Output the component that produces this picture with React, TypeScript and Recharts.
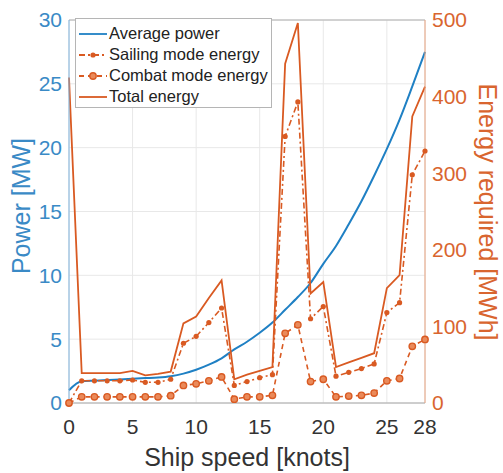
import React from "react";
import {
  ComposedChart,
  Line,
  XAxis,
  YAxis,
  CartesianGrid,
  ReferenceLine,
} from "recharts";

// ship speed [knots]
const speed = [0, 1, 2, 3, 4, 5, 6, 7, 8, 9, 10, 11, 12, 13, 14, 15, 16, 17, 18, 19, 20, 21, 22, 23, 24, 25, 26, 27, 28];
// average power [MW]
const avgPower = [1.0, 1.7, 1.75, 1.8, 1.85, 1.9, 1.95, 2.0, 2.1, 2.3, 2.6, 3.0, 3.5, 4.2, 4.8, 5.5, 6.3, 7.3, 8.3, 9.4, 10.9, 12.3, 14.0, 15.8, 17.8, 19.9, 22.2, 24.8, 27.5];
// energy [MWh]
const sailing = [0, 29, 29, 29, 29, 30, 27, 27, 31, 78, 87, 105, 124, 23, 28, 33, 37, 348, 393, 110, 126, 35, 40, 45, 51, 118, 131, 298, 329];
const combat = [0, 8, 8, 8, 8, 8, 8, 8, 9.5, 23, 25, 29, 34, 5, 8, 8, 10, 91, 102, 28, 31, 8, 9, 10, 13, 29, 32, 74, 83];
const total = [425, 39, 39, 39, 39, 42, 36, 38, 41, 104, 113, 137, 160, 31, 37, 42, 47, 443, 496, 143, 158, 47, 53, 59, 65, 150, 167, 374, 413];

const xTicks = [0, 5, 10, 15, 20, 25, 28];
const powerTicks = [0, 5, 10, 15, 20, 25, 30];
const energyTicks = [0, 100, 200, 300, 400, 500];

const BLUE = "#1f80c4";
const BLUE_TEXT = "#3a8ac6";
const ORANGE = "#d95a22";
const ORANGE_TEXT = "#d9652f";
const FONT = "'Liberation Sans', Arial, Helvetica, sans-serif";

const data = speed.map((s, i) => ({
  speed: s,
  power: avgPower[i],
  sailing: sailing[i],
  combat: combat[i],
  total: total[i],
}));

const SailDot = (p: any) => <circle cx={p.cx} cy={p.cy} r={2.6} fill={ORANGE} stroke="none" />;
const CombatDot = (p: any) => (
  <circle cx={p.cx} cy={p.cy} r={3.2} fill="#ea8a5a" stroke={ORANGE} strokeWidth={1.4} />
);

function Legend() {
  const rows = [
    { name: "Average power", color: BLUE, dash: undefined, dot: null },
    { name: "Sailing mode energy", color: ORANGE, dash: "6 3 2 3", dot: "s" },
    { name: "Combat mode energy", color: ORANGE, dash: "5 4", dot: "c" },
    { name: "Total energy", color: ORANGE, dash: undefined, dot: null },
  ];
  return (
    <div
      style={{
        position: "absolute",
        left: 75,
        top: 18,
        width: 197,
        height: 90,
        border: "1px solid #b5b5b5",
        background: "#fff",
        boxSizing: "border-box",
        fontFamily: FONT,
        fontSize: 16.5,
        color: "#222",
        paddingTop: 4,
      }}
    >
      {rows.map((r) => (
        <div key={r.name} style={{ display: "flex", alignItems: "center", height: 21 }}>
          <svg width={31} height={20} style={{ marginLeft: 1 }}>
            <line x1={2} y1={10} x2={30} y2={10} stroke={r.color} strokeWidth={1.8} strokeDasharray={r.dash} />
            {r.dot === "s" && <circle cx={16} cy={10} r={2.6} fill={ORANGE} />}
            {r.dot === "c" && <circle cx={16} cy={10} r={3.2} fill="#ea8a5a" stroke={ORANGE} strokeWidth={1.4} />}
          </svg>
          <span style={{ marginLeft: 1 }}>{r.name}</span>
        </div>
      ))}
    </div>
  );
}

export default function App() {
  return (
    <div style={{ position: "absolute", left: 0, top: 0, width: 503, height: 473, background: "#fff" }}>
      <ComposedChart
        width={503}
        height={473}
        data={data}
        margin={{ top: 20, right: 0, bottom: 0, left: 0 }}
      >
        <CartesianGrid yAxisId="left" stroke="#e8e8e8" strokeWidth={1} />
        <XAxis
          dataKey="speed"
          type="number"
          domain={[0, 28]}
          ticks={xTicks}
          interval={0}
          height={70}
          tickLine={false}
          tickMargin={10}
          axisLine={{ stroke: "#a8a8a8" }}
          tick={{ fontSize: 21, fill: "#333", fontFamily: FONT }}
          label={() => (
            <text x={247} y={466} textAnchor="middle" fontSize={25} fill="#333" fontFamily={FONT}>
              Ship speed [knots]
            </text>
          )}
        />
        <YAxis
          yAxisId="left"
          orientation="left"
          domain={[0, 30]}
          ticks={powerTicks}
          interval={0}
          width={69}
          tickLine={false}
          tickMargin={1}
          axisLine={{ stroke: "#7fb2dc" }}
          tick={{ fontSize: 21, fill: BLUE_TEXT, fontFamily: FONT }}
          label={() => (
            <text
              x={30}
              y={206}
              transform="rotate(-90 30 206)"
              textAnchor="middle"
              fontSize={25}
              fill={BLUE_TEXT}
              fontFamily={FONT}
            >
              Power [MW]
            </text>
          )}
        />
        <YAxis
          yAxisId="right"
          orientation="right"
          domain={[0, 500]}
          ticks={energyTicks}
          interval={0}
          width={78}
          tickLine={false}
          tickMargin={1}
          axisLine={{ stroke: "#e8a27f" }}
          tick={{ fontSize: 21, fill: ORANGE_TEXT, fontFamily: FONT }}
          label={() => (
            <text
              x={479}
              y={212}
              transform="rotate(90 479 212)"
              textAnchor="middle"
              fontSize={25}
              fill={ORANGE_TEXT}
              fontFamily={FONT}
            >
              Energy required [MWh]
            </text>
          )}
        />
        <ReferenceLine yAxisId="left" y={30} stroke="#b0b0b0" />
        <Line
          yAxisId="left"
          type="monotone"
          dataKey="power"
          stroke={BLUE}
          strokeWidth={2}
          dot={false}
          isAnimationActive={false}
        />
        <Line
          yAxisId="right"
          type="linear"
          dataKey="sailing"
          stroke={ORANGE}
          strokeWidth={1.6}
          strokeDasharray="6 3 2 3"
          dot={<SailDot />}
          isAnimationActive={false}
        />
        <Line
          yAxisId="right"
          type="linear"
          dataKey="combat"
          stroke={ORANGE}
          strokeWidth={1.6}
          strokeDasharray="5 4"
          dot={<CombatDot />}
          isAnimationActive={false}
        />
        <Line
          yAxisId="right"
          type="linear"
          dataKey="total"
          stroke={ORANGE}
          strokeWidth={1.8}
          dot={false}
          isAnimationActive={false}
        />
      </ComposedChart>
      <Legend />
    </div>
  );
}
